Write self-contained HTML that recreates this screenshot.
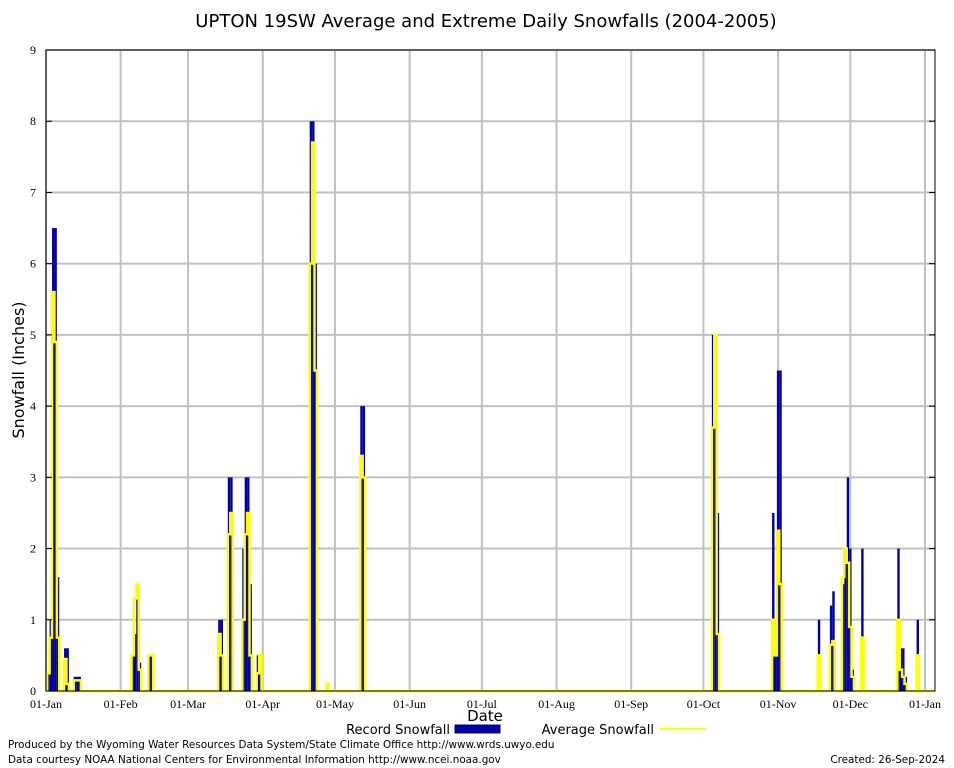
<!DOCTYPE html>
<html><head><meta charset="utf-8"><style>
body{margin:0;background:#fff;}
svg{display:block;font-family:"DejaVu Sans","Liberation Sans",sans-serif;}
.tk{font-family:"Liberation Serif",serif;font-size:12px;}
</style></head><body>
<svg id="c" width="954" height="768">
<rect x="0" y="0" width="954" height="768" fill="#fff"/>
<text x="486" y="27" text-anchor="middle" font-size="18">UPTON 19SW Average and Extreme Daily Snowfalls (2004-2005)</text>
<g id="grid"></g>
<g id="bars"></g>
<g id="avg"></g>
<g id="axes"></g>
<text transform="translate(24,370) rotate(-90)" text-anchor="middle" font-size="16">Snowfall (Inches)</text>
<text x="485" y="721" text-anchor="middle" font-size="15">Date</text>
<g>
<text x="450" y="734" text-anchor="end" font-size="13">Record Snowfall</text>
<rect x="455" y="725" width="45" height="8" fill="#0000a0" stroke="#000080"/>
</g>
<g>
<text x="654" y="734" text-anchor="end" font-size="13">Average Snowfall</text>
<line x1="660" y1="729" x2="706" y2="729" stroke="#ffff00" stroke-width="2"/>
</g>
<text x="8" y="748" font-size="10.4">Produced by the Wyoming Water Resources Data System/State Climate Office http://www.wrds.uwyo.edu</text>
<text x="8" y="763" font-size="10.4">Data courtesy NOAA National Centers for Environmental Information http://www.ncei.noaa.gov</text>
<text x="945" y="763" text-anchor="end" font-size="10.4">Created:  26-Sep-2024</text>
</svg>
<script>
const days=[1,2,3,4,5,8,9,12,13,14,36,37,38,39,43,44,72,73,76,77,82,83,84,85,88,89,110,111,112,117,131,132,277,278,279,302,303,304,305,321,326,327,331,332,333,334,335,339,354,355,356,357,362];
const recordVals=[0.25,1.0,6.5,6.5,1.6,0.6,0.6,0.2,0.2,0.2,0.5,0.8,1.5,0.4,0.5,0.5,1.0,1.0,3.0,3.0,2.0,3.0,3.0,1.5,0.5,0.5,8.0,8.0,6.0,0.1,4.0,4.0,5.0,5.0,2.5,2.5,1.0,4.5,4.5,1.0,1.2,1.4,1.5,2.0,3.0,2.0,0.3,2.0,2.0,0.6,0.6,0.2,1.0];
const avgVals=[0.25,0.75,5.6,4.9,0.75,0.45,0.1,0.15,0.15,0.15,0.5,1.3,1.5,0.3,0.5,0.5,0.8,0.5,2.2,2.5,1.0,2.2,2.5,0.5,0.25,0.5,6.0,7.7,4.5,0.1,3.3,3.0,3.7,5.0,0.8,1.0,0.5,2.25,1.5,0.5,0.65,0.7,1.6,2.0,1.8,0.9,0.2,0.75,1.0,0.3,0.2,0.1,0.5];
const yTicks=[0,1,2,3,4,5,6,7,8,9];
const monthLabels=["01-Jan","01-Feb","01-Mar","01-Apr","01-May","01-Jun","01-Jul","01-Aug","01-Sep","01-Oct","01-Nov","01-Dec","01-Jan"];
const monthDays=[0,31,59,90,120,151,181,212,243,273,304,334,365];
const X0=46,X1=935,Y0=691,Y1=50,PPD=(925-46)/365;
const xs=d=>X0+d*PPD, ys=v=>Y0-(v/9)*(Y0-Y1);
const NS="http://www.w3.org/2000/svg";
function mk(p,t,a){const e=document.createElementNS(NS,t);for(const k in a)e.setAttribute(k,a[k]);p.appendChild(e);return e;}
const grid=document.getElementById('grid'),axes=document.getElementById('axes');
yTicks.forEach(v=>{
 const l=mk(grid,'line',{x1:X0,x2:X1,y1:ys(v),y2:ys(v),stroke:'#c0c0c0','stroke-width':2});
 
 
 mk(axes,'line',{x1:X0,x2:X0+6,y1:ys(v),y2:ys(v),stroke:'#000'});
 mk(axes,'line',{x1:X1-6,x2:X1,y1:ys(v),y2:ys(v),stroke:'#000'});
 const t=mk(axes,'text',{x:X0-10,y:ys(v)+4,'text-anchor':'end',class:'tk'});t.textContent=v;
 
 
});
monthDays.forEach((d,i)=>{
 const l=mk(grid,'line',{x1:xs(d),x2:xs(d),y1:Y1,y2:Y0,stroke:'#c0c0c0','stroke-width':2});
 
 
 const t=mk(axes,'text',{x:xs(d),y:708,'text-anchor':'middle',class:'tk'});t.textContent=monthLabels[i];
 
 
});
mk(axes,'rect',{x:X0,y:Y1,width:X1-X0,height:Y0-Y1,fill:'none',stroke:'#000'});
const bars=document.getElementById('bars');
days.forEach((d,i)=>{
 const r=mk(bars,'rect',{x:xs(d)-PPD/2,y:ys(recordVals[i]),width:PPD,height:Y0-ys(recordVals[i]),fill:'#0000a0'});
 
 
});
let pts=[[X0,Y0]];
days.forEach((d,i)=>{
 const xa=xs(d)-PPD/2,xb=xs(d)+PPD/2,y=ys(avgVals[i]);
 const prevAdj=i>0&&days[i-1]===d-1;
 const nextAdj=i<days.length-1&&days[i+1]===d+1;
 if(!prevAdj)pts.push([xa,Y0]);
 pts.push([xa,y],[xb,y]);
 if(!nextAdj)pts.push([xb,Y0]);
});
pts.push([X1,Y0]);
const pl=mk(document.getElementById('avg'),'polyline',{points:pts.map(p=>p.join(',')).join(' '),fill:'none',stroke:'#ffff00','stroke-width':2.5});


</script>
</body></html>
